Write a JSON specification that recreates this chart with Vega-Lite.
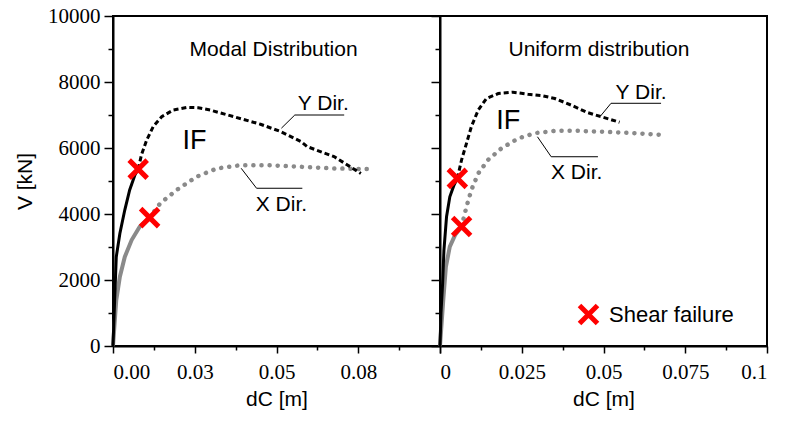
{
  "$schema": "https://vega.github.io/schema/vega-lite/v6.json",
  "background": "white",
  "padding": {"left": 13, "top": 4, "right": 5, "bottom": 5},
  "spacing": 0,
  "bounds": "flush",
  "resolve": {"legend": {"shape": "independent", "color": "independent"}},
  "datasets": {
    "curves": [
      {"p": "M", "c": "Y", "s": "pre", "d": 0, "V": 0},
      {"p": "M", "c": "Y", "s": "pre", "d": 0.0005, "V": 1390},
      {"p": "M", "c": "Y", "s": "pre", "d": 0.001, "V": 2700},
      {"p": "M", "c": "Y", "s": "pre", "d": 0.0021, "V": 3410},
      {"p": "M", "c": "Y", "s": "pre", "d": 0.0036, "V": 4120},
      {"p": "M", "c": "Y", "s": "pre", "d": 0.0051, "V": 4730},
      {"p": "M", "c": "Y", "s": "pre", "d": 0.0067, "V": 5180},
      {"p": "M", "c": "Y", "s": "pre", "d": 0.0077, "V": 5360},
      {"p": "M", "c": "Y", "s": "post", "d": 0.0077, "V": 5360},
      {"p": "M", "c": "Y", "s": "post", "d": 0.0087, "V": 5790},
      {"p": "M", "c": "Y", "s": "post", "d": 0.0103, "V": 6240},
      {"p": "M", "c": "Y", "s": "post", "d": 0.0123, "V": 6650},
      {"p": "M", "c": "Y", "s": "post", "d": 0.0149, "V": 6950},
      {"p": "M", "c": "Y", "s": "post", "d": 0.0184, "V": 7150},
      {"p": "M", "c": "Y", "s": "post", "d": 0.0226, "V": 7230},
      {"p": "M", "c": "Y", "s": "post", "d": 0.0261, "V": 7220},
      {"p": "M", "c": "Y", "s": "post", "d": 0.0297, "V": 7150},
      {"p": "M", "c": "Y", "s": "post", "d": 0.0369, "V": 6950},
      {"p": "M", "c": "Y", "s": "post", "d": 0.0451, "V": 6720},
      {"p": "M", "c": "Y", "s": "post", "d": 0.0512, "V": 6500},
      {"p": "M", "c": "Y", "s": "post", "d": 0.0574, "V": 6200},
      {"p": "M", "c": "Y", "s": "post", "d": 0.0594, "V": 6040},
      {"p": "M", "c": "Y", "s": "post", "d": 0.0676, "V": 5740},
      {"p": "M", "c": "Y", "s": "post", "d": 0.0758, "V": 5230},
      {"p": "M", "c": "X", "s": "pre", "d": 0, "V": 0},
      {"p": "M", "c": "X", "s": "pre", "d": 0.001, "V": 1390},
      {"p": "M", "c": "X", "s": "pre", "d": 0.0021, "V": 2100},
      {"p": "M", "c": "X", "s": "pre", "d": 0.0036, "V": 2700},
      {"p": "M", "c": "X", "s": "pre", "d": 0.0057, "V": 3210},
      {"p": "M", "c": "X", "s": "pre", "d": 0.0082, "V": 3620},
      {"p": "M", "c": "X", "s": "pre", "d": 0.0112, "V": 3890},
      {"p": "M", "c": "X", "s": "post", "d": 0.0112, "V": 3890},
      {"p": "M", "c": "X", "s": "post", "d": 0.0144, "V": 4320},
      {"p": "M", "c": "X", "s": "post", "d": 0.0195, "V": 4730},
      {"p": "M", "c": "X", "s": "post", "d": 0.0256, "V": 5130},
      {"p": "M", "c": "X", "s": "post", "d": 0.0318, "V": 5380},
      {"p": "M", "c": "X", "s": "post", "d": 0.039, "V": 5480},
      {"p": "M", "c": "X", "s": "post", "d": 0.0472, "V": 5480},
      {"p": "M", "c": "X", "s": "post", "d": 0.0574, "V": 5430},
      {"p": "M", "c": "X", "s": "post", "d": 0.0676, "V": 5380},
      {"p": "M", "c": "X", "s": "post", "d": 0.0794, "V": 5360},
      {"p": "U", "c": "Y", "s": "pre", "d": 0, "V": 0},
      {"p": "U", "c": "Y", "s": "pre", "d": 0.0003, "V": 1000},
      {"p": "U", "c": "Y", "s": "pre", "d": 0.0008, "V": 1900},
      {"p": "U", "c": "Y", "s": "pre", "d": 0.0012, "V": 2900},
      {"p": "U", "c": "Y", "s": "pre", "d": 0.002, "V": 3920},
      {"p": "U", "c": "Y", "s": "pre", "d": 0.003, "V": 4520},
      {"p": "U", "c": "Y", "s": "pre", "d": 0.0043, "V": 4880},
      {"p": "U", "c": "Y", "s": "pre", "d": 0.0053, "V": 5080},
      {"p": "U", "c": "Y", "s": "post", "d": 0.0053, "V": 5080},
      {"p": "U", "c": "Y", "s": "post", "d": 0.0066, "V": 5640},
      {"p": "U", "c": "Y", "s": "post", "d": 0.0081, "V": 6140},
      {"p": "U", "c": "Y", "s": "post", "d": 0.0096, "V": 6650},
      {"p": "U", "c": "Y", "s": "post", "d": 0.0117, "V": 7150},
      {"p": "U", "c": "Y", "s": "post", "d": 0.0142, "V": 7500},
      {"p": "U", "c": "Y", "s": "post", "d": 0.0178, "V": 7650},
      {"p": "U", "c": "Y", "s": "post", "d": 0.0223, "V": 7690},
      {"p": "U", "c": "Y", "s": "post", "d": 0.0269, "V": 7630},
      {"p": "U", "c": "Y", "s": "post", "d": 0.031, "V": 7590},
      {"p": "U", "c": "Y", "s": "post", "d": 0.0351, "V": 7500},
      {"p": "U", "c": "Y", "s": "post", "d": 0.0401, "V": 7300},
      {"p": "U", "c": "Y", "s": "post", "d": 0.0452, "V": 7070},
      {"p": "U", "c": "Y", "s": "post", "d": 0.0493, "V": 6950},
      {"p": "U", "c": "Y", "s": "post", "d": 0.0549, "V": 6780},
      {"p": "U", "c": "X", "s": "pre", "d": 0, "V": 0},
      {"p": "U", "c": "X", "s": "pre", "d": 0.001, "V": 1390},
      {"p": "U", "c": "X", "s": "pre", "d": 0.0018, "V": 2400},
      {"p": "U", "c": "X", "s": "pre", "d": 0.003, "V": 3010},
      {"p": "U", "c": "X", "s": "pre", "d": 0.0046, "V": 3360},
      {"p": "U", "c": "X", "s": "pre", "d": 0.0066, "V": 3620},
      {"p": "U", "c": "X", "s": "post", "d": 0.0066, "V": 3620},
      {"p": "U", "c": "X", "s": "post", "d": 0.0081, "V": 4220},
      {"p": "U", "c": "X", "s": "post", "d": 0.0096, "V": 4730},
      {"p": "U", "c": "X", "s": "post", "d": 0.0117, "V": 5230},
      {"p": "U", "c": "X", "s": "post", "d": 0.0147, "V": 5640},
      {"p": "U", "c": "X", "s": "post", "d": 0.0188, "V": 5990},
      {"p": "U", "c": "X", "s": "post", "d": 0.0239, "V": 6290},
      {"p": "U", "c": "X", "s": "post", "d": 0.029, "V": 6450},
      {"p": "U", "c": "X", "s": "post", "d": 0.0351, "V": 6520},
      {"p": "U", "c": "X", "s": "post", "d": 0.0422, "V": 6520},
      {"p": "U", "c": "X", "s": "post", "d": 0.0503, "V": 6490},
      {"p": "U", "c": "X", "s": "post", "d": 0.0595, "V": 6450},
      {"p": "U", "c": "X", "s": "post", "d": 0.0691, "V": 6390}
    ],
    "leaders": [
      {"p": "M", "c": "Y", "d": 0.0515, "V": 6600},
      {"p": "M", "c": "Y", "d": 0.0556, "V": 7000},
      {"p": "M", "c": "Y", "d": 0.0707, "V": 7000},
      {"p": "M", "c": "X", "d": 0.0392, "V": 5385},
      {"p": "M", "c": "X", "d": 0.0439, "V": 4780},
      {"p": "M", "c": "X", "d": 0.0579, "V": 4780},
      {"p": "U", "c": "Y", "d": 0.0491, "V": 6970},
      {"p": "U", "c": "Y", "d": 0.0523, "V": 7355},
      {"p": "U", "c": "Y", "d": 0.0676, "V": 7355},
      {"p": "U", "c": "X", "d": 0.0298, "V": 6340},
      {"p": "U", "c": "X", "d": 0.034, "V": 5735},
      {"p": "U", "c": "X", "d": 0.0483, "V": 5735}
    ],
    "labels": [
      {"p": "M", "kind": "small", "text": "Modal Distribution", "d": 0.0491, "V": 8970},
      {"p": "M", "kind": "big", "text": "IF", "d": 0.0249, "V": 6210},
      {"p": "M", "kind": "small", "text": "Y Dir.", "d": 0.0643, "V": 7330},
      {"p": "M", "kind": "small", "text": "X Dir.", "d": 0.0515, "V": 4270},
      {"p": "U", "kind": "small", "text": "Uniform distribution", "d": 0.0486, "V": 8980},
      {"p": "U", "kind": "big", "text": "IF", "d": 0.0209, "V": 6820},
      {"p": "U", "kind": "small", "text": "Y Dir.", "d": 0.0615, "V": 7660},
      {"p": "U", "kind": "small", "text": "X Dir.", "d": 0.0418, "V": 5230}
    ],
    "fail": [
      {"p": "M", "c": "Y", "d": 0.0077, "V": 5360},
      {"p": "M", "c": "X", "d": 0.0112, "V": 3890},
      {"p": "U", "c": "Y", "d": 0.0053, "V": 5080},
      {"p": "U", "c": "X", "d": 0.0066, "V": 3620}
    ]
  },
  "config": {
    "view": {"stroke": "black", "strokeWidth": 2},
    "axis": {
      "grid": false,
      "domainColor": "black",
      "domainWidth": 2,
      "tickColor": "black",
      "tickWidth": 1.5,
      "labelFont": "Liberation Serif, Times New Roman, serif",
      "labelFontSize": 21,
      "labelColor": "black",
      "titleFont": "Liberation Sans, Arial, sans-serif",
      "titleFontSize": 21,
      "titleFontWeight": "normal",
      "titleColor": "black"
    },
    "text": {"font": "Liberation Sans, Arial, sans-serif", "fontSize": 21, "color": "black"},
    "legend": {
      "orient": "none",
      "legendX": 137,
      "legendY": 287,
      "padding": 0,
      "title": null,
      "labelFont": "Liberation Sans, Arial, sans-serif",
      "labelFontSize": 22,
      "labelColor": "black",
      "labelOffset": 9,
      "symbolSize": 324,
      "symbolStrokeWidth": 5
    }
  },
  "hconcat": [
    {
      "width": 327,
      "height": 330,
      "encoding": {
        "x": {
          "field": "d",
          "type": "quantitative",
          "scale": {"domain": [0, 0.1], "nice": false},
          "axis": {
            "title": "dC [m]",
            "values": [0, 0.0125, 0.025, 0.0375, 0.05, 0.0625, 0.075, 0.0875, 0.1],
            "labelExpr": "datum.value < 0.001 ? '0.00' : abs(datum.value - 0.025) < 0.001 ? '0.03' : abs(datum.value - 0.05) < 0.001 ? '0.05' : abs(datum.value - 0.075) < 0.001 ? '0.08' : ''",
            "tickSize": {"condition": {"test": "abs(datum.value / 0.025 - round(datum.value / 0.025)) < 0.01", "value": 7}, "value": 4},
            "labelPadding": 8,
            "titlePadding": 6
          }
        },
        "y": {
          "field": "V",
          "type": "quantitative",
          "scale": {"domain": [0, 10000], "nice": false},
          "axis": {
            "title": "V [kN]",
            "values": [0, 1000, 2000, 3000, 4000, 5000, 6000, 7000, 8000, 9000, 10000],
            "labelExpr": "datum.value % 2000 === 0 ? format(datum.value, 'd') : ''",
            "tickSize": {"condition": {"test": "datum.value % 2000 === 0", "value": 9}, "value": 5},
            "labelPadding": 4,
            "titlePadding": 12
          }
        }
      },
      "layer": [
        {"data": {"name": "curves"}, "transform": [{"filter": "datum.p === 'M' && datum.c === 'X' && datum.s === 'pre'"}],
         "mark": {"type": "line", "color": "#8a8a8a", "strokeWidth": 4}},
        {"data": {"name": "curves"}, "transform": [{"filter": "datum.p === 'M' && datum.c === 'X' && datum.s === 'post'"}],
         "mark": {"type": "line", "color": "#8a8a8a", "strokeWidth": 4.5, "strokeDash": [0.1, 8], "strokeCap": "round"}},
        {"data": {"name": "curves"}, "transform": [{"filter": "datum.p === 'M' && datum.c === 'Y' && datum.s === 'pre'"}],
         "mark": {"type": "line", "color": "black", "strokeWidth": 3}},
        {"data": {"name": "curves"}, "transform": [{"filter": "datum.p === 'M' && datum.c === 'Y' && datum.s === 'post'"}],
         "mark": {"type": "line", "color": "black", "strokeWidth": 3, "strokeDash": [5, 3]}},
        {"data": {"name": "leaders"}, "transform": [{"filter": "datum.p === 'M'"}],
         "mark": {"type": "line", "color": "black", "strokeWidth": 1},
         "encoding": {"detail": {"field": "c"}}},
        {"data": {"name": "labels"}, "transform": [{"filter": "datum.p === 'M' && datum.kind === 'small'"}],
         "mark": {"type": "text", "align": "center", "baseline": "middle", "fontSize": 21},
         "encoding": {"text": {"field": "text"}}},
        {"data": {"name": "labels"}, "transform": [{"filter": "datum.p === 'M' && datum.kind === 'big'"}],
         "mark": {"type": "text", "align": "center", "baseline": "middle", "fontSize": 27},
         "encoding": {"text": {"field": "text"}}},
        {"data": {"name": "fail"}, "transform": [{"filter": "datum.p === 'M'"}],
         "mark": {"type": "point", "shape": "M-1,-1L1,1M-1,1L1,-1", "filled": false, "color": "#ff0000", "strokeWidth": 5, "size": 324, "opacity": 1}}
      ]
    },
    {
      "width": 327,
      "height": 330,
      "encoding": {
        "x": {
          "field": "d",
          "type": "quantitative",
          "scale": {"domain": [0, 0.1], "nice": false},
          "axis": {
            "title": "dC [m]",
            "values": [0, 0.0125, 0.025, 0.0375, 0.05, 0.0625, 0.075, 0.0875, 0.1],
            "labelExpr": "datum.value < 0.001 ? '0' : abs(datum.value - 0.025) < 0.001 ? '0.025' : abs(datum.value - 0.05) < 0.001 ? '0.05' : abs(datum.value - 0.075) < 0.001 ? '0.075' : abs(datum.value - 0.1) < 0.001 ? '0.1' : ''",
            "tickSize": {"condition": {"test": "abs(datum.value / 0.025 - round(datum.value / 0.025)) < 0.01", "value": 7}, "value": 4},
            "labelPadding": 8,
            "titlePadding": 6
          }
        },
        "y": {
          "field": "V",
          "type": "quantitative",
          "scale": {"domain": [0, 10000], "nice": false},
          "axis": {
            "title": null,
            "labels": false,
            "values": [0, 1000, 2000, 3000, 4000, 5000, 6000, 7000, 8000, 9000, 10000],
            "tickSize": {"condition": {"test": "datum.value % 2000 === 0", "value": 9}, "value": 5}
          }
        }
      },
      "layer": [
        {"data": {"name": "curves"}, "transform": [{"filter": "datum.p === 'U' && datum.c === 'X' && datum.s === 'pre'"}],
         "mark": {"type": "line", "color": "#8a8a8a", "strokeWidth": 4}},
        {"data": {"name": "curves"}, "transform": [{"filter": "datum.p === 'U' && datum.c === 'X' && datum.s === 'post'"}],
         "mark": {"type": "line", "color": "#8a8a8a", "strokeWidth": 4.5, "strokeDash": [0.1, 8], "strokeCap": "round"}},
        {"data": {"name": "curves"}, "transform": [{"filter": "datum.p === 'U' && datum.c === 'Y' && datum.s === 'pre'"}],
         "mark": {"type": "line", "color": "black", "strokeWidth": 3}},
        {"data": {"name": "curves"}, "transform": [{"filter": "datum.p === 'U' && datum.c === 'Y' && datum.s === 'post'"}],
         "mark": {"type": "line", "color": "black", "strokeWidth": 3, "strokeDash": [5, 3]}},
        {"data": {"name": "leaders"}, "transform": [{"filter": "datum.p === 'U'"}],
         "mark": {"type": "line", "color": "black", "strokeWidth": 1},
         "encoding": {"detail": {"field": "c"}}},
        {"data": {"name": "labels"}, "transform": [{"filter": "datum.p === 'U' && datum.kind === 'small'"}],
         "mark": {"type": "text", "align": "center", "baseline": "middle", "fontSize": 21},
         "encoding": {"text": {"field": "text"}}},
        {"data": {"name": "labels"}, "transform": [{"filter": "datum.p === 'U' && datum.kind === 'big'"}],
         "mark": {"type": "text", "align": "center", "baseline": "middle", "fontSize": 27},
         "encoding": {"text": {"field": "text"}}},
        {"data": {"name": "fail"}, "transform": [{"filter": "datum.p === 'U'"}],
         "mark": {"type": "point", "filled": false, "strokeWidth": 5, "size": 324, "opacity": 1},
         "encoding": {
           "shape": {"datum": "Shear failure", "scale": {"range": ["M-1,-1L1,1M-1,1L1,-1"]}},
           "color": {"datum": "Shear failure", "scale": {"range": ["#ff0000"]}}
         }}
      ]
    }
  ]
}
